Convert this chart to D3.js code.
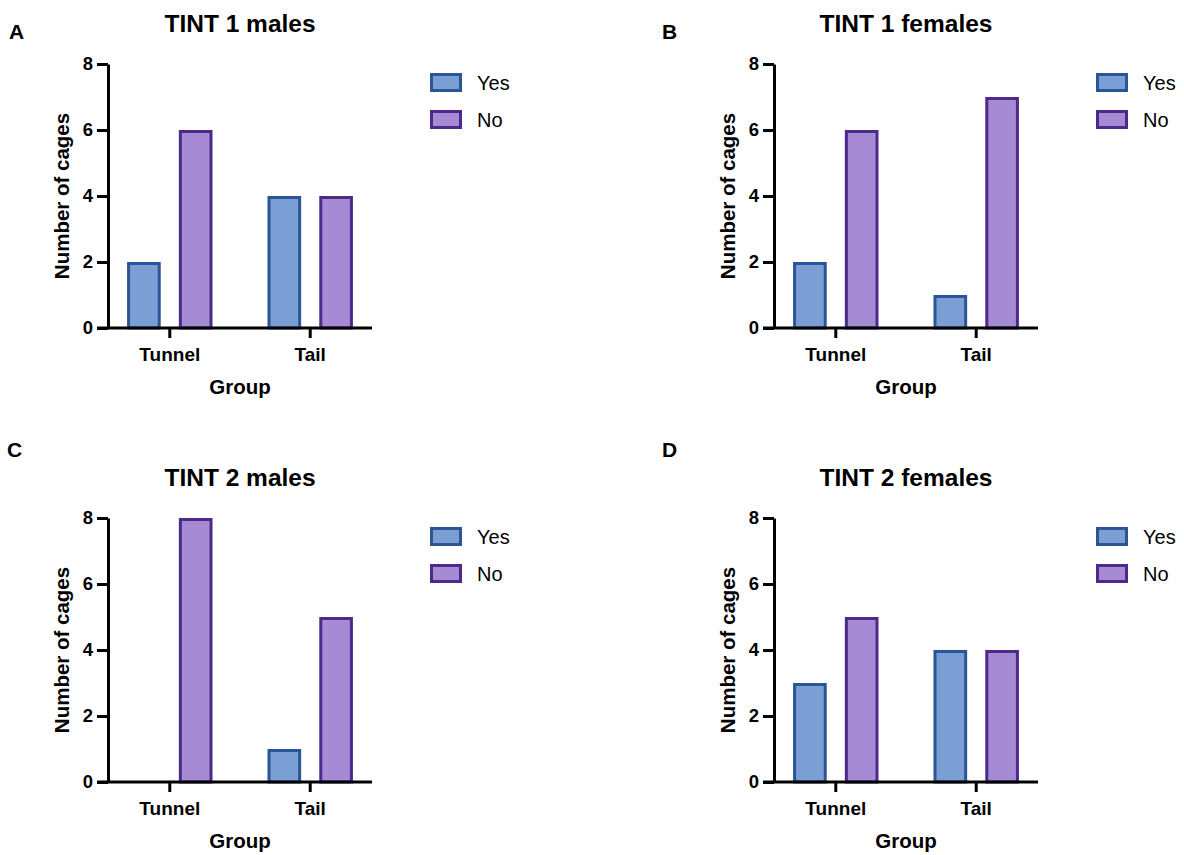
<!DOCTYPE html>
<html>
<head>
<meta charset="utf-8">
<script src="https://cdn.jsdelivr.net/npm/d3@7"></script>
<style>
  body { margin: 0; background: #fff; }
  svg text { font-family: "Liberation Sans", Arial, Helvetica, sans-serif; fill: #000; }
</style>
</head>
<body>
<div id="chart"></div>
<script>
// Datos
var groups = ["Tunnel", "Tail"];
var answers = ["Yes", "No"];
var panelLetters = ["A", "B", "C", "D"];
var panelTitles = ["TINT 1 males", "TINT 1 females", "TINT 2 males", "TINT 2 females"];
var yesValues = [[2, 4], [2, 1], [0, 1], [3, 4]];
var noValues = [[6, 4], [6, 7], [8, 5], [5, 4]];
var yTicks = [0, 2, 4, 6, 8];

// Colores
var fillColor = { Yes: "#7b9fd4", No: "#a68ad4" };
var strokeColor = { Yes: "#2c5596", No: "#4b2a8c" };

var svg = d3.select("#chart").append("svg")
  .attr("width", 1184)
  .attr("height", 855);

// Posicion de cada panel (offset del origen)
var panelOffsets = [[0, 0], [666, 0], [0, 454], [666, 454]];
var letterPos = [[9, 39], [662, 39], [7, 457], [662, 457]];

var y = d3.scaleLinear().domain([0, 8]).range([328, 64]);
var x0 = d3.scaleBand().domain(groups).range([108, 372]).paddingInner(0.2).paddingOuter(0.04);
var x1 = d3.scaleBand().domain(answers).range([0, x0.bandwidth()]).paddingInner(0.35).paddingOuter(0.26);

for (var p = 0; p < 4; p++) {
  svg.append("text")
    .attr("x", letterPos[p][0]).attr("y", letterPos[p][1])
    .attr("font-size", 21).attr("font-weight", "bold")
    .text(panelLetters[p]);

  var g = svg.append("g")
    .attr("transform", "translate(" + panelOffsets[p][0] + "," + panelOffsets[p][1] + ")");

  g.append("text")
    .attr("x", 240).attr("y", 32)
    .attr("text-anchor", "middle")
    .attr("font-size", 24.5).attr("font-weight", "bold")
    .text(panelTitles[p]);

  var rows = groups.map(function(grp, i) {
    return { group: grp, Yes: yesValues[p][i], No: noValues[p][i] };
  });

  // Barras
  rows.forEach(function(row) {
    answers.forEach(function(a) {
      if (row[a] <= 0) return;
      g.append("rect")
        .attr("x", x0(row.group) + x1(a) + 1.5)
        .attr("y", y(row[a]) + 1.5)
        .attr("width", x1.bandwidth() - 3)
        .attr("height", y(0) - y(row[a]) - 1.5)
        .attr("fill", fillColor[a])
        .attr("stroke", strokeColor[a])
        .attr("stroke-width", 3);
    });
  });

  // Eje Y
  var yAxis = g.append("g")
    .attr("transform", "translate(108,0)")
    .call(d3.axisLeft(y).tickValues(yTicks).tickSize(11).tickSizeOuter(0).tickPadding(4));
  yAxis.select(".domain").attr("stroke-width", 3).attr("stroke", "#000");
  yAxis.selectAll(".tick line").attr("stroke-width", 3).attr("stroke", "#000");
  yAxis.selectAll(".tick text")
    .attr("font-size", 18.5).attr("font-weight", "bold")
    .attr("font-family", "Liberation Sans, Arial, sans-serif")
    .attr("fill", "#000");

  // Eje X
  var xAxis = g.append("g")
    .attr("transform", "translate(0,328)")
    .call(d3.axisBottom(x0).tickSize(10).tickSizeOuter(0).tickPadding(10));
  xAxis.select(".domain").remove();
  xAxis.selectAll(".tick line").attr("stroke-width", 3).attr("stroke", "#000");
  xAxis.selectAll(".tick text")
    .attr("font-size", 19).attr("font-weight", "bold")
    .attr("font-family", "Liberation Sans, Arial, sans-serif")
    .attr("fill", "#000");
  g.append("line")
    .attr("x1", 97).attr("x2", 372)
    .attr("y1", 328).attr("y2", 328)
    .attr("stroke", "#000").attr("stroke-width", 3);

  // Titulos de ejes
  g.append("text")
    .attr("x", 240).attr("y", 394)
    .attr("text-anchor", "middle")
    .attr("font-size", 20.5).attr("font-weight", "bold")
    .text("Group");
  g.append("text")
    .attr("transform", "translate(69,196) rotate(-90)")
    .attr("text-anchor", "middle")
    .attr("font-size", 20.5).attr("font-weight", "bold")
    .text("Number of cages");

  // Leyenda
  answers.forEach(function(a, i) {
    g.append("rect")
      .attr("x", 431.5).attr("y", 74.5 + i * 37)
      .attr("width", 29).attr("height", 16)
      .attr("fill", fillColor[a])
      .attr("stroke", strokeColor[a])
      .attr("stroke-width", 3);
    g.append("text")
      .attr("x", 477).attr("y", 90 + i * 37)
      .attr("font-size", 20)
      .text(a);
  });
}
</script>
</body>
</html>
